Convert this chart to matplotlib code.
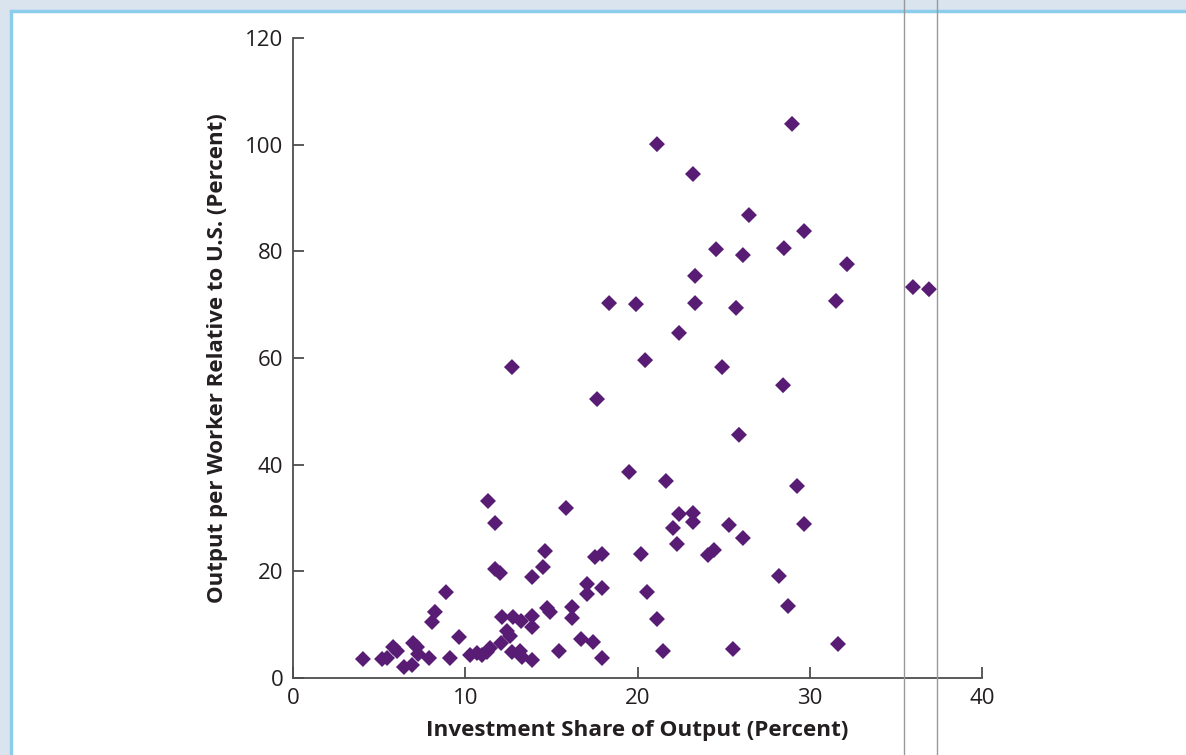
import matplotlib
matplotlib.use("Agg")
import matplotlib.pyplot as plt
from matplotlib.patches import Rectangle
from matplotlib.lines import Line2D

# Investment share of output (%) vs output per worker relative to U.S. (%)
investment = [
    4.06, 5.17, 5.46, 5.81, 6.04, 6.44, 6.91, 6.97, 7.2, 7.26,
    7.9, 8.88, 8.24, 8.07, 9.11, 9.64, 10.28, 10.68, 10.97, 11.26,
    11.44, 12.08, 12.42, 12.6, 12.13, 12.77, 13.24, 13.88, 13.88, 12.71,
    13.18, 13.29, 13.88, 15.44, 16.72, 17.42, 17.94, 21.48, 25.54, 31.64,
    14.75, 14.92, 16.2, 16.2, 21.13, 28.74, 17.07, 17.07, 17.94, 20.55,
    28.21, 14.63, 14.51, 13.88, 11.73, 12.02, 17.53, 17.94, 20.2, 24.09,
    24.44, 22.29, 26.12, 22.06, 22.41, 23.22, 23.22, 25.31, 29.67, 11.73,
    11.32, 15.85, 19.51, 21.65, 29.26,
    28.97, 21.13, 23.22, 26.47, 29.67, 24.56, 28.5, 26.12, 32.16, 23.34,
    35.99, 36.92, 18.35, 19.91, 23.34, 31.52, 25.72, 22.41, 20.44, 12.71,
    24.91, 28.45, 17.65, 25.89,
]
output_per_worker = [
    3.56, 3.56, 3.75, 5.81, 5.06, 2.06, 2.44, 6.56, 5.81, 4.5,
    3.75, 16.1, 12.4, 10.5, 3.75, 7.69, 4.31, 4.69, 4.31, 4.88,
    5.63, 6.56, 8.81, 7.88, 11.44, 11.44, 10.69, 11.63, 9.56, 4.88,
    5.06, 3.94, 3.38, 5.06, 7.31, 6.75, 3.75, 5.06, 5.44, 6.38,
    13.13, 12.38, 13.31, 11.25, 11.06, 13.5, 17.63, 15.75, 16.88, 16.13,
    19.13, 23.81, 20.81, 18.94, 20.44, 19.69, 22.69, 23.25, 23.25, 23.06,
    24.0, 25.13, 26.25, 28.13, 30.75, 30.94, 29.25, 28.69, 28.88, 29.06,
    33.19, 31.88, 38.63, 36.94, 36.0,
    103.9, 100.1, 94.5, 86.8, 83.8, 80.4, 80.6, 79.3, 77.6, 75.4,
    73.3, 72.9, 70.3, 70.1, 70.3, 70.7, 69.4, 64.7, 59.6, 58.3,
    58.3, 54.9, 52.3, 45.6,
]
x_ticks = [0, 10, 20, 30, 40]
y_ticks = [0, 20, 40, 60, 80, 100, 120]

fig = plt.figure(figsize=(11.86, 7.55), dpi=100, facecolor="#d9e4ee")

# white panel with light blue border
panel = Rectangle((11 / 1186, -0.05), 1.1, 1 - 11 / 755 + 0.05, transform=fig.transFigure,
                  facecolor="white", edgecolor="#8ccdec", linewidth=2.5, zorder=-10)
fig.patches.append(panel)

ax = fig.add_axes([293 / 1186, 1 - 678 / 755, (982 - 293) / 1186, (678 - 38) / 755])
ax.set_facecolor("none")

ax.scatter(investment, output_per_worker, marker="D", s=66, color="#581c74",
           edgecolors="none", clip_on=False, zorder=3)

ax.set_xlim(0, 40)
ax.set_ylim(0, 120)
ax.set_xticks(x_ticks)
ax.set_yticks(y_ticks)
for side in ["top", "right"]:
    ax.spines[side].set_visible(False)
for side in ["left", "bottom"]:
    ax.spines[side].set_color("#4d4d4d")
    ax.spines[side].set_linewidth(1.3)
ax.tick_params(direction="in", length=8, width=1.3, color="#4d4d4d",
               labelsize=16, labelcolor="#231f20", pad=7)
for lbl in ax.get_xticklabels() + ax.get_yticklabels():
    lbl.set_family("Open Sans")

ax.set_xlabel("Investment Share of Output (Percent)", fontsize=16.2, fontweight="bold",
              family="Open Sans", color="#231f20", labelpad=8)
ax.set_ylabel("Output per Worker Relative to U.S. (Percent)", fontsize=16, fontweight="bold",
              family="Open Sans", color="#231f20", labelpad=12)

# thin grey vertical guide lines
for xp in [904, 937]:
    fig.add_artist(Line2D([xp / 1186, xp / 1186], [0, 1], transform=fig.transFigure,
                          color="#999999", linewidth=1.0, zorder=5))

fig.savefig("out.png", dpi=100, facecolor=fig.get_facecolor())
